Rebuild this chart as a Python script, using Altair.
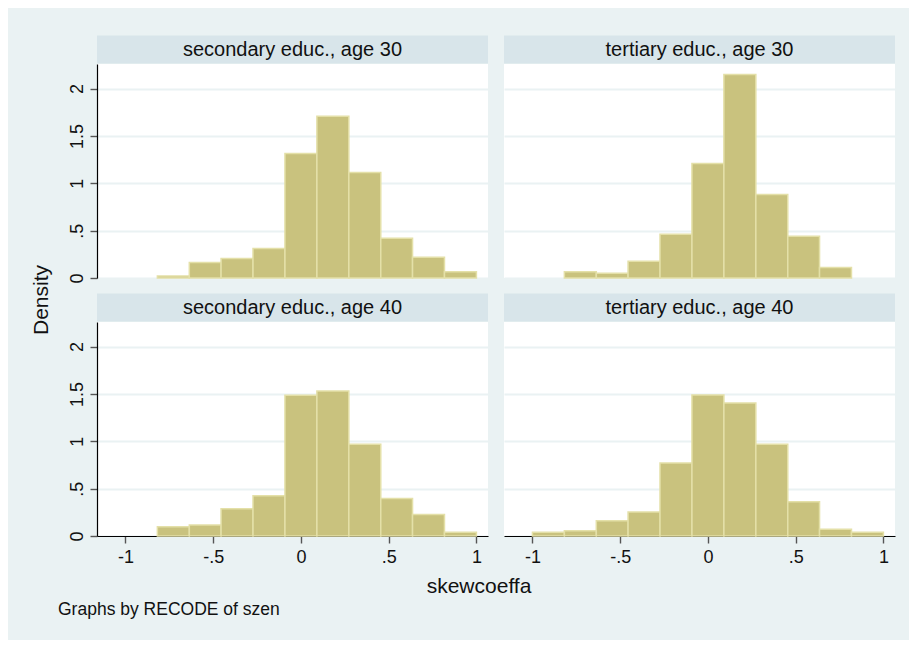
import altair as alt
import pandas as pd

# ---- data ----
bin_left = [-1.0, -0.818, -0.636, -0.455, -0.273, -0.091, 0.091, 0.273, 0.455, 0.636, 0.818]
bin_right = [-0.818, -0.636, -0.455, -0.273, -0.091, 0.091, 0.273, 0.455, 0.636, 0.818, 1.0]

panel_labels = [
    "secondary educ., age 30",
    "tertiary educ., age 30",
    "secondary educ., age 40",
    "tertiary educ., age 40",
]
dens_sec30 = [0.0, 0.02, 0.163, 0.205, 0.311, 1.316, 1.708, 1.114, 0.421, 0.219, 0.067]
dens_ter30 = [0.0, 0.067, 0.05, 0.177, 0.463, 1.21, 2.15, 0.881, 0.442, 0.11, 0.0]
dens_sec40 = [0.0, 0.098, 0.116, 0.288, 0.425, 1.486, 1.532, 0.970, 0.397, 0.228, 0.039]
dens_ter40 = [0.039, 0.056, 0.162, 0.253, 0.77, 1.49, 1.405, 0.97, 0.362, 0.07, 0.039]

x_ticks = [-1, -0.5, 0, 0.5, 1]
y_ticks = [0, 0.5, 1, 1.5, 2]
x_title = "skewcoeffa"
y_title = "Density"
note_text = "Graphs by RECODE of szen"

# ---- styling ----
FONT = "Liberation Sans"
BG = "#EAF2F3"
STRIP = "#D8E5EA"
BAR_FILL = "#C9C27E"
BAR_STROKE = "#E4E0A8"
W, H = 391, 214
X_DOM = [-1.162, 1.066]
Y_DOM = [0, 2.26]
LABEL_EXPR = "replace(replace(format(datum.value, '~g'), '\u2212', '-'), '0.', '.')"


def panel(label, dens, left, bottom, extras=()):
    df = pd.DataFrame({"lo": bin_left, "hi": bin_right, "density": dens})
    df = df[df["density"] > 0]

    if bottom:
        xax = alt.Axis(values=x_ticks, labelExpr=LABEL_EXPR, grid=False,
                       domain=True, domainColor="black", domainWidth=1.2,
                       ticks=True, tickColor="#555555", tickSize=7, tickWidth=1.4,
                       labelFont=FONT, labelFontSize=18, labelColor="#111111",
                       labelPadding=5, title=None)
    else:
        xax = None

    if left:
        yax = alt.Axis(values=y_ticks, labelExpr=LABEL_EXPR, grid=True,
                       gridColor=BG, gridWidth=1.8,
                       domain=True, domainColor="black", domainWidth=1.2,
                       ticks=True, tickColor="#555555", tickSize=7, tickWidth=1.4,
                       labelFont=FONT, labelFontSize=18, labelColor="#111111",
                       labelAngle=270, labelAlign="center", labelBaseline="alphabetic",
                       labelPadding=8, title=None)
    else:
        yax = alt.Axis(values=y_ticks, grid=True, gridColor=BG, gridWidth=1.8,
                       labels=False, ticks=False, domain=False, title=None)

    bars = alt.Chart(df).mark_rect(
        fill=BAR_FILL, stroke=BAR_STROKE, strokeWidth=1.5
    ).encode(
        x=alt.X("lo:Q", scale=alt.Scale(domain=X_DOM, nice=False, zero=False), axis=xax),
        x2="hi:Q",
        y=alt.Y("density:Q", scale=alt.Scale(domain=Y_DOM, nice=False), axis=yax),
        y2=alt.datum(0),
    )

    sdf = pd.DataFrame({"label": [label]})
    strip_rect = alt.Chart(sdf).mark_rect(fill=STRIP).encode(
        x=alt.value(0), x2=alt.value(W), y=alt.value(-28.5), y2=alt.value(-0.5)
    )
    strip_text = alt.Chart(sdf).mark_text(
        font=FONT, fontSize=20, color="#111111", baseline="middle", align="center"
    ).encode(x=alt.value(W / 2), y=alt.value(-14), text="label:N")

    return alt.layer(bars, strip_rect, strip_text, *extras).properties(width=W, height=H)


# canvas extent marker (invisible) and shared titles
canvas = alt.Chart(pd.DataFrame({"k": [0]})).mark_rect(opacity=0).encode(
    x=alt.value(-89), x2=alt.value(-89 + 901), y=alt.value(-56), y2=alt.value(-56 + 632)
)
ytitle = alt.Chart(pd.DataFrame({"t": [y_title]})).mark_text(
    font=FONT, fontSize=21, angle=270, color="#111111", baseline="middle", align="center"
).encode(x=alt.value(-55), y=alt.value(236), text="t:N")
xtitle = alt.Chart(pd.DataFrame({"t": [x_title]})).mark_text(
    font=FONT, fontSize=21, color="#111111", baseline="middle", align="center"
).encode(x=alt.value(382), y=alt.value(265), text="t:N")
note = alt.Chart(pd.DataFrame({"t": [note_text]})).mark_text(
    font=FONT, fontSize=17.5, color="#111111", baseline="middle", align="left"
).encode(x=alt.value(-39), y=alt.value(288), text="t:N")

tl = panel(panel_labels[0], dens_sec30, True, False, extras=(canvas, ytitle))
tr = panel(panel_labels[1], dens_ter30, False, False)
bl = panel(panel_labels[2], dens_sec40, True, True, extras=(xtitle, note))
br = panel(panel_labels[3], dens_ter40, False, True)

chart = alt.concat(
    tl, tr, bl, br, columns=2, spacing={"row": 44, "column": 16}, bounds="flush"
).properties(
    padding=0, autosize=alt.AutoSizeParams(type="pad")
).configure(
    background=BG, font=FONT
).configure_view(stroke=None, fill="white")

chart.save("out.html", embed_options={"renderer": "svg", "actions": False})
